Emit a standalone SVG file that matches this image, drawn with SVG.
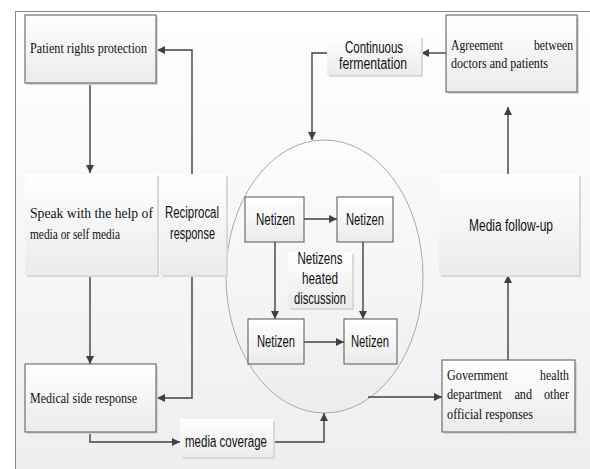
<svg xmlns="http://www.w3.org/2000/svg" width="590" height="469" viewBox="0 0 590 469">
<style>
.ln{fill:none;stroke:#404040;stroke-width:1.4}
.bx{stroke:#555;stroke-width:1;fill:url(#g)}
.nb{fill:url(#g)}
.sh{fill:#d8d8d8}
.tr{font-family:"Liberation Serif","DejaVu Serif",serif;font-size:15px;fill:#111}
.sa{font-family:"Liberation Sans",sans-serif;font-size:16px;fill:#111}
</style>
<defs>
<linearGradient id="g" x1="0" y1="0" x2="0" y2="1"><stop offset="0" stop-color="#ffffff"/><stop offset="1" stop-color="#ebebeb"/></linearGradient>
<linearGradient id="bg" x1="0" y1="0" x2="0" y2="1"><stop offset="0" stop-color="#ffffff"/><stop offset="1" stop-color="#eeeeee"/></linearGradient>
<marker id="a" viewBox="0 0 10 10" refX="10" refY="5" markerWidth="8" markerHeight="8" markerUnits="userSpaceOnUse" orient="auto"><path d="M0,0L10,5L0,10z" fill="#404040"/></marker>
</defs>
<rect x="0" y="0" width="590" height="469" fill="#ffffff"/>
<rect x="15.5" y="11.5" width="580" height="470" fill="url(#bg)" stroke="#888" stroke-width="1"/>

<g id="ellipse"><ellipse cx="324.5" cy="276.5" rx="98.5" ry="136.5" fill="url(#g)" fill-opacity="0.6" stroke="#aaa" stroke-width="1"/></g>

<g id="connectors">
<path class="ln" d="M90,83V173" marker-end="url(#a)"/>
<path class="ln" d="M90,275V364" marker-end="url(#a)"/>
<path class="ln" d="M192,174V50H157" marker-end="url(#a)"/>
<path class="ln" d="M192,275V398H157" marker-end="url(#a)"/>
<path class="ln" d="M90,432V442H180" marker-end="url(#a)"/>
<path class="ln" d="M273,442H324V413" marker-end="url(#a)"/>
<path class="ln" d="M368,397H442" marker-end="url(#a)"/>
<path class="ln" d="M508,360V275" marker-end="url(#a)"/>
<path class="ln" d="M508,174V107" marker-end="url(#a)"/>
<path class="ln" d="M446,53H421" marker-end="url(#a)"/>
<path class="ln" d="M327,53H312V140" marker-end="url(#a)"/>
<path class="ln" d="M304,219H337" marker-end="url(#a)"/>
<path class="ln" d="M275,242V319" marker-end="url(#a)"/>
<path class="ln" d="M363,242V319" marker-end="url(#a)"/>
<path class="ln" d="M304,342H344" marker-end="url(#a)"/>
</g>

<g id="patient"><rect class="sh" x="27" y="17" width="131" height="68"/><rect class="bx" x="25" y="15" width="131" height="68"/>
<text class="tr" transform="translate(30,53) scale(0.75,1)" textLength="156" lengthAdjust="spacingAndGlyphs">Patient rights protection</text></g>

<g id="speak"><rect class="sh" x="27" y="176" width="132" height="101"/><rect class="nb" x="25" y="174" width="132" height="101"/>
<text class="tr" transform="translate(30,218) scale(0.75,1)" textLength="164" lengthAdjust="spacingAndGlyphs">Speak with the help of</text>
<text class="tr" transform="translate(30,239) scale(0.75,1)" textLength="120" lengthAdjust="spacingAndGlyphs">media or self media</text></g>

<g id="reciprocal"><rect class="sh" x="162" y="176" width="66" height="101"/><rect class="nb" x="160" y="174" width="66" height="101"/>
<text class="sa" x="165" y="218" textLength="54" lengthAdjust="spacingAndGlyphs">Reciprocal</text>
<text class="sa" x="170" y="239" textLength="45" lengthAdjust="spacingAndGlyphs">response</text></g>

<g id="medical"><rect class="sh" x="27" y="366" width="131" height="68"/><rect class="bx" x="25" y="364" width="131" height="68"/>
<text class="tr" transform="translate(30,403) scale(0.75,1)" textLength="142.7" lengthAdjust="spacingAndGlyphs">Medical side response</text></g>

<g id="coverage"><rect class="sh" x="182" y="421" width="93" height="38"/><rect class="nb" x="180" y="419" width="93" height="38"/>
<text class="sa" x="185" y="447" textLength="82" lengthAdjust="spacingAndGlyphs">media coverage</text></g>

<g id="fermentation"><rect class="sh" x="329" y="38" width="94" height="39"/><rect class="nb" x="327" y="36" width="94" height="39"/>
<text class="sa" x="345" y="53" textLength="58" lengthAdjust="spacingAndGlyphs">Continuous</text>
<text class="sa" x="339" y="69" textLength="68" lengthAdjust="spacingAndGlyphs">fermentation</text></g>

<g id="agreement"><rect class="sh" x="448" y="17" width="131" height="77"/><rect class="bx" x="446" y="15" width="131" height="77"/>
<text class="tr" transform="translate(451,50) scale(0.75,1)" textLength="69.3" lengthAdjust="spacingAndGlyphs">Agreement</text>
<text class="tr" transform="translate(534,50) scale(0.75,1)" textLength="52" lengthAdjust="spacingAndGlyphs">between</text>
<text class="tr" transform="translate(451,68) scale(0.75,1)" textLength="129.3" lengthAdjust="spacingAndGlyphs">doctors and patients</text></g>

<g id="followup"><rect class="sh" x="441" y="176" width="140" height="101"/><rect class="nb" x="439" y="174" width="140" height="101"/>
<text class="sa" x="469" y="231" textLength="84" lengthAdjust="spacingAndGlyphs">Media follow-up</text></g>

<g id="government"><rect class="sh" x="444" y="362" width="133" height="72"/><rect class="bx" x="442" y="360" width="133" height="72"/>
<text class="tr" transform="translate(447,380) scale(0.75,1)" textLength="81.3" lengthAdjust="spacingAndGlyphs">Government</text>
<text class="tr" transform="translate(540,380) scale(0.75,1)" textLength="38.7" lengthAdjust="spacingAndGlyphs">health</text>
<text class="tr" transform="translate(447,399) scale(0.75,1)" textLength="73.3" lengthAdjust="spacingAndGlyphs">department</text>
<text class="tr" transform="translate(514.4,399) scale(0.75,1)" textLength="23.5" lengthAdjust="spacingAndGlyphs">and</text>
<text class="tr" transform="translate(544,399) scale(0.75,1)" textLength="33.3" lengthAdjust="spacingAndGlyphs">other</text>
<text class="tr" transform="translate(447,419) scale(0.75,1)" textLength="114.7" lengthAdjust="spacingAndGlyphs">official responses</text></g>

<g id="netizen1"><rect class="bx" x="245" y="197" width="59" height="45"/><text class="sa" x="256" y="225" textLength="39" lengthAdjust="spacingAndGlyphs">Netizen</text></g>
<g id="netizen2"><rect class="bx" x="337" y="197" width="56" height="45"/><text class="sa" x="346" y="225" textLength="38" lengthAdjust="spacingAndGlyphs">Netizen</text></g>
<g id="netizen3"><rect class="bx" x="248" y="319" width="56" height="45"/><text class="sa" x="257" y="347" textLength="38" lengthAdjust="spacingAndGlyphs">Netizen</text></g>
<g id="netizen4"><rect class="bx" x="344" y="319" width="53" height="45"/><text class="sa" x="351" y="347" textLength="38" lengthAdjust="spacingAndGlyphs">Netizen</text></g>

<g id="discussion"><rect class="sh" x="290" y="254" width="64" height="56"/><rect class="nb" x="288" y="252" width="64" height="56"/>
<text class="sa" x="320" y="264" text-anchor="middle" textLength="45" lengthAdjust="spacingAndGlyphs">Netizens</text>
<text class="sa" x="320" y="284" text-anchor="middle" textLength="36" lengthAdjust="spacingAndGlyphs">heated</text>
<text class="sa" x="320" y="304" text-anchor="middle" textLength="52" lengthAdjust="spacingAndGlyphs">discussion</text></g>
</svg>
